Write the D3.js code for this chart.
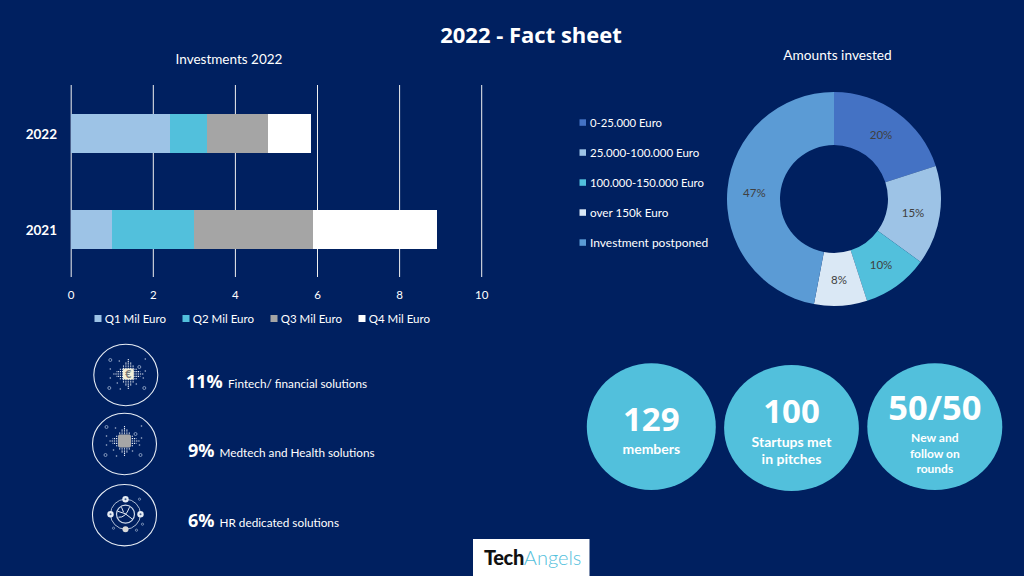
<!DOCTYPE html>
<html>
<head>
<meta charset="utf-8">
<script src="https://cdn.jsdelivr.net/npm/d3@7"></script>
<style>
html, body { margin: 0; padding: 0; background: #002060; }
svg { display: block; }
text { font-family: Lato, "Open Sans", sans-serif; }
</style>
</head>
<body>
<div id="chart"></div>
<script>
// Values
const years = ["2022", "2021"];
const quarters = ["Q1 Mil Euro", "Q2 Mil Euro", "Q3 Mil Euro", "Q4 Mil Euro"];
const q1 = [2.4, 1];
const q2 = [0.9, 2];
const q3 = [1.5, 2.9];
const q4 = [1.03, 3];
const xTicks = [0, 2, 4, 6, 8, 10];

const amountLabels = ["0-25.000 Euro", "25.000-100.000 Euro", "100.000-150.000 Euro", "over 150k Euro", "Investment postponed"];
const amountValues = [20, 15, 10, 8, 47];

const sectorShares = ["11%", "9%", "6%"];
const sectorNames = ["Fintech/ financial solutions", "Medtech and Health solutions", "HR dedicated solutions"];

const bubbleNumbers = ["129", "100", "50/50"];
const bubbleLines = [["members"], ["Startups met", "in pitches"], ["New and", "follow on", "rounds"]];

const barColors = ["#9dc3e6", "#52c0dc", "#a5a5a5", "#ffffff"];
const pieColors = ["#4472c4", "#9dc3e6", "#52c0dc", "#dae8f5", "#5b9bd5"];

const svg = d3.select("#chart").append("svg").attr("width", 1024).attr("height", 576);
svg.append("rect").attr("width", 1024).attr("height", 576).attr("fill", "#002060");

svg.append("text").attr("x", 531).attr("y", 43).attr("text-anchor", "middle")
    .attr("fill", "#fff").style("font-family", "Open Sans").style("font-weight", 700).style("font-size", "22px")
    .text("2022 - Fact sheet");

// Stacked bars
const x = d3.scaleLinear().domain([0, 10]).range([71.2, 481.7]);
const y = d3.scaleBand().domain(years).range([85.5, 277.5]).paddingInner(0.597).paddingOuter(0.2985);

svg.append("text").attr("x", 229).attr("y", 64).attr("text-anchor", "middle")
    .attr("fill", "#fff").style("font-size", "13.5px").text("Investments 2022");

svg.append("g").selectAll("line").data(xTicks).join("line")
    .attr("x1", d => x(d)).attr("x2", d => x(d)).attr("y1", 85).attr("y2", 277)
    .attr("stroke", "#f0f0f0").attr("stroke-width", 1);

svg.append("g").selectAll("text").data(xTicks).join("text")
    .attr("x", d => x(d)).attr("y", 298.5).attr("text-anchor", "middle")
    .attr("fill", "#fff").style("font-size", "11.5px").text(d => d);

const rows = years.map((year, i) => ({ year, q0: q1[i], q1: q2[i], q2: q3[i], q3: q4[i] }));
const stacked = d3.stack().keys(["q0", "q1", "q2", "q3"])(rows);

svg.append("g").selectAll("g").data(stacked).join("g")
    .attr("fill", (d, i) => barColors[i])
    .attr("shape-rendering", "crispEdges")
    .selectAll("rect").data(d => d).join("rect")
    .attr("x", d => x(d[0]))
    .attr("width", d => x(d[1]) - x(d[0]))
    .attr("y", d => y(d.data.year))
    .attr("height", y.bandwidth());

svg.append("g").selectAll("text").data(years).join("text")
    .attr("x", 57).attr("y", d => y(d) + y.bandwidth() / 2 + 5).attr("text-anchor", "end")
    .attr("fill", "#fff").style("font-weight", 700).style("font-size", "13.5px").text(d => d);

const barLegendX = [94.5, 182.5, 270.5, 358.5];
const barLegend = svg.append("g").selectAll("g").data(quarters).join("g")
    .attr("transform", (d, i) => `translate(${barLegendX[i]},318)`);
barLegend.append("rect").attr("y", -3).attr("width", 7).attr("height", 7).attr("fill", (d, i) => barColors[i]);
barLegend.append("text").attr("x", 10.3).attr("y", 4.5).attr("fill", "#fff").style("font-size", "11.5px").text(d => d);

// Donut
svg.append("text").attr("x", 837.5).attr("y", 60).attr("text-anchor", "middle")
    .attr("fill", "#fff").style("font-size", "13.7px").text("Amounts invested");

const pie = d3.pie().sort(null)(amountValues);
const arc = d3.arc().innerRadius(54).outerRadius(107);
const donut = svg.append("g").attr("transform", "translate(834,199)");
donut.selectAll("path").data(pie).join("path").attr("d", arc).attr("fill", (d, i) => pieColors[i]);
const labelArc = d3.arc().innerRadius(80).outerRadius(80);
donut.selectAll("text").data(pie).join("text")
    .attr("transform", d => `translate(${labelArc.centroid(d)})`)
    .attr("dy", "0.45em").attr("text-anchor", "middle")
    .attr("fill", "#404040").style("font-size", "11.5px").text(d => d.data + "%");

const legendSize = [11.3, 11.5, 11.3, 11.7, 12];
const amountLegend = svg.append("g").selectAll("g").data(amountLabels).join("g")
    .attr("transform", (d, i) => `translate(579.5,${122.5 + i * 30})`);
amountLegend.append("rect").attr("y", -3.2).attr("width", 6.5).attr("height", 6.5).attr("fill", (d, i) => pieColors[i]);
amountLegend.append("text").attr("x", 10.5).attr("y", 4).attr("fill", "#fff")
    .style("font-size", (d, i) => legendSize[i] + "px").text(d => d);

// Sector rows with their round icons
const iconX = [125.8, 124.5, 124.5];
const iconY = [375, 444, 515.2];
const rowY = [387.7, 457, 526.5];
const shareX = [186, 188, 188];
const nameX = [228, 219.5, 219.5];

function chipIcon(g, fill, cx, cy, size) {
    const chip = g.append("g").attr("transform", `translate(${cx},${cy})`);
    // circuit style dots running out from the middle square
    [[1, 0], [-1, 0], [0, 1], [0, -1]].forEach(([dx, dy]) => {
        d3.range(-2, 3).forEach(k => {
            const reach = 15 - Math.abs(k) * 3;
            chip.append("line")
                .attr("x1", dx * 5 + dy * k * 2.4).attr("y1", dy * 5 + dx * k * 2.4)
                .attr("x2", dx * reach + dy * k * 2.4).attr("y2", dy * reach + dx * k * 2.4)
                .attr("stroke", "#e6ecf4").attr("stroke-width", 1.1).attr("stroke-dasharray", "1.3 0.9");
        });
    });
    chip.append("rect").attr("x", -size / 2).attr("y", -size / 2).attr("width", size).attr("height", size).attr("rx", 2).attr("fill", fill);
    [[-18, -14], [11, -7], [-19, 14], [16, 14]].forEach(([px, py]) => {
        chip.append("circle").attr("cx", px).attr("cy", py).attr("r", 1.5)
            .attr("fill", "none").attr("stroke", "#8ea3c4").attr("stroke-width", 0.9);
    });
    [[-9, -13], [17, -15], [17, -3], [-18, -5], [-18, 4], [-11, 9], [15, 4], [8, 10], [-8, 15]].forEach(([px, py]) => {
        chip.append("circle").attr("cx", px).attr("cy", py).attr("r", 0.8).attr("fill", "#a9b8d2");
    });
    return chip;
}

function orbitIcon(g) {
    const o = g.append("g").attr("transform", "translate(1,-1)");
    o.append("circle").attr("r", 15).attr("fill", "none").attr("stroke", "#aebcd4");
    o.append("circle").attr("r", 9).attr("fill", "none").attr("stroke", "#cdd8e8").attr("stroke-width", 1.2);
    o.append("path").attr("d", "M-8,-3 Q0,-2 7,5 M-7,3 Q0,4 4,-7 M-4,-7 L-2,-2")
        .attr("fill", "none").attr("stroke", "#e6ecf4").attr("stroke-width", 1);
    [[0, -15], [-15, 0], [15, 0]].forEach(([cx, cy]) => {
        o.append("circle").attr("cx", cx).attr("cy", cy).attr("r", 3.2).attr("fill", "#e6ecf4");
        o.append("circle").attr("cx", cx).attr("cy", cy).attr("r", 1).attr("fill", "#44608f");
    });
    o.append("circle").attr("cy", 15).attr("r", 3).attr("fill", "#d9d9d9");
    [[14, -15], [17, 10], [-12, 14], [11, 16]].forEach(([px, py]) => {
        o.append("circle").attr("cx", px).attr("cy", py).attr("r", 1.1)
            .attr("fill", "none").attr("stroke", "#8ea3c4").attr("stroke-width", 0.8);
    });
}

sectorShares.forEach((share, i) => {
    const g = svg.append("g").attr("transform", `translate(${iconX[i]},${iconY[i]})`);
    g.append("ellipse").attr("rx", 32).attr("ry", 30.7).attr("fill", "none").attr("stroke", "#e6ecf4").attr("stroke-width", 1.1);
    if (i === 0) {
        const chip = chipIcon(g, "#f2efd8", 2.5, -1, 11);
        chip.append("text").attr("y", 4).attr("text-anchor", "middle").attr("fill", "#777")
            .style("font-size", "10.5px").style("font-weight", 700).text("€");
    } else if (i === 1) {
        chipIcon(g, "#a6a6a6", 0, -3, 13);
    } else {
        orbitIcon(g);
    }
    svg.append("text").attr("x", shareX[i]).attr("y", rowY[i]).attr("fill", "#fff")
        .style("font-family", "Open Sans").style("font-weight", 700).style("font-size", "18px").text(share);
    svg.append("text").attr("x", nameX[i]).attr("y", rowY[i]).attr("fill", "#fff")
        .style("font-size", "11.75px").text(sectorNames[i]);
});

// Key number bubbles
const bubbleX = [651.3, 791.5, 934.8];
const bubbleY = [426.7, 428, 426.7];
const bubbleRx = [64.5, 67.4, 67.5];
const bubbleRy = [63.4, 63, 63.4];
const numberY = [430.5, 423, 420];
const numberSize = ["33px", "33px", "34.5px"];
const firstLineY = [454, 447, 442];
const lineGap = [0, 17, 15.5];
const lineSize = ["14px", "14px", "12px"];
bubbleNumbers.forEach((num, i) => {
    svg.append("ellipse").attr("cx", bubbleX[i]).attr("cy", bubbleY[i]).attr("rx", bubbleRx[i]).attr("ry", bubbleRy[i]).attr("fill", "#52c0dc");
    svg.append("text").attr("x", bubbleX[i]).attr("y", numberY[i]).attr("text-anchor", "middle")
        .attr("fill", "#fff").style("font-family", "Open Sans").style("font-weight", 700).style("font-size", numberSize[i]).text(num);
    bubbleLines[i].forEach((t, k) => {
        svg.append("text").attr("x", bubbleX[i]).attr("y", firstLineY[i] + k * lineGap[i]).attr("text-anchor", "middle")
            .attr("fill", "#fff").style("font-weight", 700).style("font-size", lineSize[i]).text(t);
    });
});

// Logo box
svg.append("rect").attr("x", 473).attr("y", 539).attr("width", 116.5).attr("height", 37).attr("fill", "#fff");
const logo = svg.append("text").attr("x", 484).attr("y", 565).style("font-size", "20px");
logo.append("tspan").attr("fill", "#111").style("font-weight", 900).style("letter-spacing", "-0.4px").text("Tech");
logo.append("tspan").attr("fill", "#52c0dc").style("font-weight", 300).text("Angels");
</script>
</body>
</html>
